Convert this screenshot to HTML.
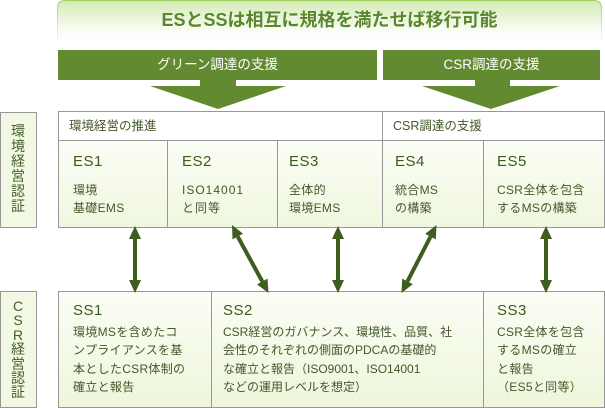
<!DOCTYPE html>
<html><head><meta charset="utf-8">
<style>
*{margin:0;padding:0;box-sizing:border-box}
html,body{width:605px;height:408px;background:#fff;overflow:hidden}
body{position:relative;font-family:"Liberation Sans","Noto Sans CJK JP",sans-serif;color:#3f5a22}
.a{position:absolute}
.box{position:absolute;border:1px solid #979797}
.vl{position:absolute;width:1px;background:#979797}
.hd{position:absolute;font-size:15px;line-height:20px;white-space:nowrap;color:#3c5a1c;letter-spacing:0.5px}
.bd{position:absolute;font-size:12px;line-height:18.6px;white-space:nowrap;color:#44582a;letter-spacing:0.3px}
.th{position:absolute;font-size:12.5px;line-height:20px;white-space:nowrap;color:#44582a}
.vt{position:absolute;left:0;width:36px;text-align:center;font-size:14px;color:#44602a}
.bar{position:absolute;top:50px;height:30px;background:#628a30;color:#fff;font-size:13.5px;line-height:30px;text-align:center;white-space:nowrap}
</style></head><body>

<svg class="a" style="left:0;top:0" width="605" height="408" viewBox="0 0 605 408">
<defs>
<linearGradient id="bf" x1="0" y1="0" x2="0" y2="1">
<stop offset="0" stop-color="#d3eab6"/><stop offset="0.75" stop-color="#fcfef9"/><stop offset="1" stop-color="#ffffff"/>
</linearGradient>
<linearGradient id="bs" x1="0" y1="0" x2="0" y2="1">
<stop offset="0" stop-color="#9fd15c"/><stop offset="0.8" stop-color="#e8f4d8"/><stop offset="1" stop-color="#ffffff"/>
</linearGradient>
</defs>
<path d="M57.5 44 L57.5 8 Q57.5 0.5 65 0.5 L594 0.5 Q601.5 0.5 601.5 8 L601.5 44" fill="url(#bf)" stroke="url(#bs)" stroke-width="1"/>
<text x="330" y="27" text-anchor="middle" font-family="Liberation Sans, Noto Sans CJK JP, sans-serif" font-size="18" font-weight="bold" fill="#ffffff" opacity="0.8">ESとSSは相互に規格を満たせば移行可能</text>
<text x="329.5" y="26" text-anchor="middle" font-family="Liberation Sans, Noto Sans CJK JP, sans-serif" font-size="18" font-weight="bold" fill="#5a872b">ESとSSは相互に規格を満たせば移行可能</text>
<!-- stems & triangles -->
<rect x="200" y="79" width="36" height="8" fill="#628a30"/>
<polygon points="150,86 286,86 218,109" fill="#628a30"/>
<rect x="475" y="79" width="35" height="8" fill="#628a30"/>
<polygon points="422,86 560,86 491,109" fill="#628a30"/>
</svg>

<div class="bar" style="left:58px;width:319px">グリーン調達の支援</div>
<div class="bar" style="left:383px;width:217px">CSR調達の支援</div>

<!-- left labels -->
<div class="box" style="left:0;top:112px;width:37px;height:116px;background:#f3f8e4"></div>
<div class="vt" style="top:124px;line-height:15px">環<br>境<br>経<br>営<br>認<br>証</div>
<div class="box" style="left:0;top:291px;width:37px;height:117px;background:#f3f8e4"></div>
<div class="vt" style="top:299px;line-height:14.4px">C<br>S<br>R<br>経<br>営<br>認<br>証</div>

<!-- ES table -->
<div class="box" style="left:58px;top:111px;width:547px;height:117px;background:linear-gradient(#fff 0,#fff 29px,#fbfdf5 30px,#f0f7df 100%)"></div>
<div class="a" style="left:58px;top:140px;width:547px;height:1px;background:#979797"></div>
<div class="vl" style="left:382px;top:111px;height:117px"></div>
<div class="vl" style="left:167px;top:140px;height:88px"></div>
<div class="vl" style="left:277px;top:140px;height:88px"></div>
<div class="vl" style="left:483px;top:140px;height:88px"></div>

<div class="th" style="left:69px;top:116px">環境経営の推進</div>
<div class="th" style="left:393px;top:116px">CSR調達の支援</div>

<div class="hd" style="left:73px;top:152px">ES1</div>
<div class="bd" style="left:73px;top:180.7px">環境<br>基礎EMS</div>
<div class="hd" style="left:182px;top:152px">ES2</div>
<div class="bd" style="left:182px;top:180.7px;letter-spacing:1px">ISO14001<br>と同等</div>
<div class="hd" style="left:289px;top:152px">ES3</div>
<div class="bd" style="left:289px;top:180.7px">全体的<br>環境EMS</div>
<div class="hd" style="left:395px;top:152px">ES4</div>
<div class="bd" style="left:395px;top:180.7px">統合MS<br>の構築</div>
<div class="hd" style="left:497px;top:152px">ES5</div>
<div class="bd" style="left:497px;top:180.7px">CSR全体を包含<br>するMSの構築</div>

<!-- SS table -->
<div class="box" style="left:58px;top:291px;width:547px;height:117px;background:linear-gradient(#fbfdf5,#eef6db)"></div>
<div class="vl" style="left:211px;top:291px;height:117px"></div>
<div class="vl" style="left:483px;top:291px;height:117px"></div>

<div class="hd" style="left:73px;top:301px">SS1</div>
<div class="bd" style="left:73px;top:322.6px">環境MSを含めたコ<br>ンプライアンスを基<br>本としたCSR体制の<br>確立と報告</div>
<div class="hd" style="left:223px;top:301px">SS2</div>
<div class="bd" style="left:223px;top:322.6px;letter-spacing:0">CSR経営のガバナンス、環境性、品質、社<br>会性のそれぞれの側面のPDCAの基礎的<br>な確立と報告（ISO9001、ISO14001<br>などの運用レベルを想定）</div>
<div class="hd" style="left:497px;top:301px">SS3</div>
<div class="bd" style="left:497px;top:322.6px">CSR全体を包含<br>するMSの確立<br>と報告<br>（ES5と同等）</div>

<!-- arrows -->
<svg class="a" style="left:0;top:0" width="605" height="408" viewBox="0 0 605 408">
<g fill="#3e5d1f" stroke="#3e5d1f">
<line x1="135" y1="237" x2="135" y2="282" stroke-width="4"/>
<polygon points="135,226 129,239 141,239" stroke="none"/>
<polygon points="135,293 129,280 141,280" stroke="none"/>

<line x1="338" y1="237" x2="338" y2="282" stroke-width="4"/>
<polygon points="338,226 332,239 344,239" stroke="none"/>
<polygon points="338,293 332,280 344,280" stroke="none"/>

<line x1="546" y1="237" x2="546" y2="282" stroke-width="4"/>
<polygon points="546,226 540,239 552,239" stroke="none"/>
<polygon points="546,293 540,280 552,280" stroke="none"/>

<line x1="237.7" y1="236.5" x2="262.3" y2="281.5" stroke-width="4"/>
<polygon points="232,225 232.5,239.4 243,233.6" stroke="none"/>
<polygon points="268.5,293 257,284.4 267.5,278.6" stroke="none"/>

<line x1="430.5" y1="236.7" x2="407.5" y2="281.3" stroke-width="4"/>
<polygon points="436.5,225 435.8,239.4 425.2,233.9" stroke="none"/>
<polygon points="401.5,293 412.8,284.1 402.2,278.6" stroke="none"/>
</g>
</svg>

</body></html>
